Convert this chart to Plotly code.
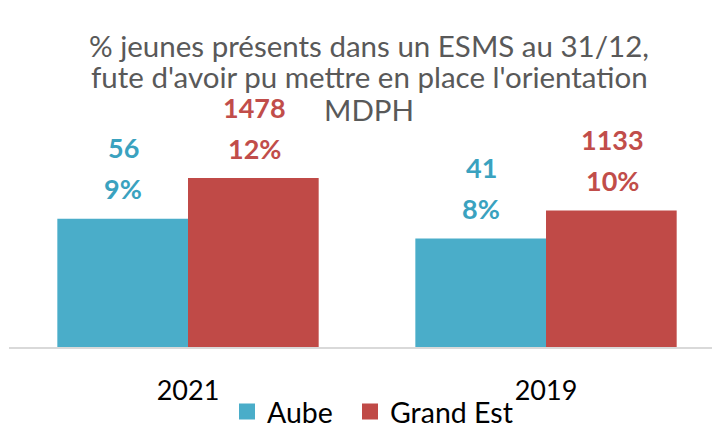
import plotly.graph_objects as go

categories = ["2021", "2019"]
series_names = ["Aube", "Grand Est"]
aube_pct = [9.1, 7.7]
grandest_pct = [12.0, 9.7]
aube_counts = ["56", "41"]
grandest_counts = ["1478", "1133"]
aube_pct_labels = ["9%", "8%"]
grandest_pct_labels = ["12%", "10%"]

title_lines = ["% jeunes présents dans un ESMS au 31/12,",
               "fute d'avoir pu mettre en place l'orientation",
               "MDPH"]

BLUE = "#4AADC9"
RED = "#C04A47"
BLUE_TXT = "#3AA2BF"
RED_TXT = "#C14D4A"
FONT = "Lato"

# the page body adds an 8px margin: size the figure so that it fits the 720x426 window
OFF = 8
W, H = 720 - OFF, 426 - OFF
ML, MR, MT, MB = 1, 0, 92, 79
PW, PH = W - ML - MR, H - MT - MB


def px_to_paper_x(px):
    return (px - OFF - ML) / PW


def px_to_paper_y(py):
    return (H - MB - (py - OFF)) / PH


fig = go.Figure()
fig.add_trace(go.Bar(name=series_names[0], x=categories, y=aube_pct, showlegend=False,
                     marker=dict(color=BLUE, line=dict(width=0))))
fig.add_trace(go.Bar(name=series_names[1], x=categories, y=grandest_pct, showlegend=False,
                     marker=dict(color=RED, line=dict(width=0))))
# legend entries (square swatches), one legend box per series
for name, col, lg in zip(series_names, [BLUE, RED], ["legend", "legend2"]):
    fig.add_trace(go.Scatter(name=name, x=[None], y=[None], mode="markers", legend=lg,
                             marker=dict(symbol="square", size=18, color=col)))

annotations = []
for vals, counts, pcts, color, xs in [
    (aube_pct, aube_counts, aube_pct_labels, BLUE_TXT, -65),
    (grandest_pct, grandest_counts, grandest_pct_labels, RED_TXT, 66),
]:
    for i, (v, c, p) in enumerate(zip(vals, counts, pcts)):
        annotations.append(dict(x=i, y=v, xref="x", yref="y", text=f"<b>{c}</b>",
                                showarrow=False, xshift=xs, yshift=71, yanchor="middle",
                                font=dict(family=FONT, size=27, color=color)))
        annotations.append(dict(x=i, y=v, xref="x", yref="y", text=f"<b>{p}</b>",
                                showarrow=False, xshift=xs, yshift=30, yanchor="middle",
                                font=dict(family=FONT, size=27, color=color)))

for k, line in enumerate(title_lines):
    annotations.append(dict(x=px_to_paper_x(369), y=px_to_paper_y(45 + 32 * k),
                            xref="paper", yref="paper",
                            text=line, showarrow=False, xanchor="center", yanchor="middle",
                            font=dict(family=FONT, size=29.5, color="#595959")))

legend_common = dict(orientation="h", xref="container", yref="container",
                     xanchor="left", yanchor="middle", y=(H - (412 - OFF)) / H,
                     font=dict(family=FONT, size=28.5, color="#000000"),
                     bgcolor="rgba(0,0,0,0)", borderwidth=0)

fig.update_layout(
    width=W, height=H,
    margin=dict(l=ML, r=MR, t=MT, b=MB, autoexpand=False),
    paper_bgcolor="white", plot_bgcolor="white",
    barmode="group", bargap=0.27, bargroupgap=0,
    xaxis=dict(type="category", range=[-0.5, 1.486], showline=True, linecolor="#D9D9D9",
               linewidth=2, ticks="", ticklabelstandoff=19, showgrid=False,
               tickfont=dict(family=FONT, size=27, color="#000000")),
    yaxis=dict(range=[0, 17.54], visible=False, showgrid=False, zeroline=False),
    legend=dict(x=(227 - OFF) / W, **legend_common),
    legend2=dict(x=(350 - OFF) / W, **legend_common),
    annotations=annotations,
    showlegend=True,
)

fig.write_html("out.html")
